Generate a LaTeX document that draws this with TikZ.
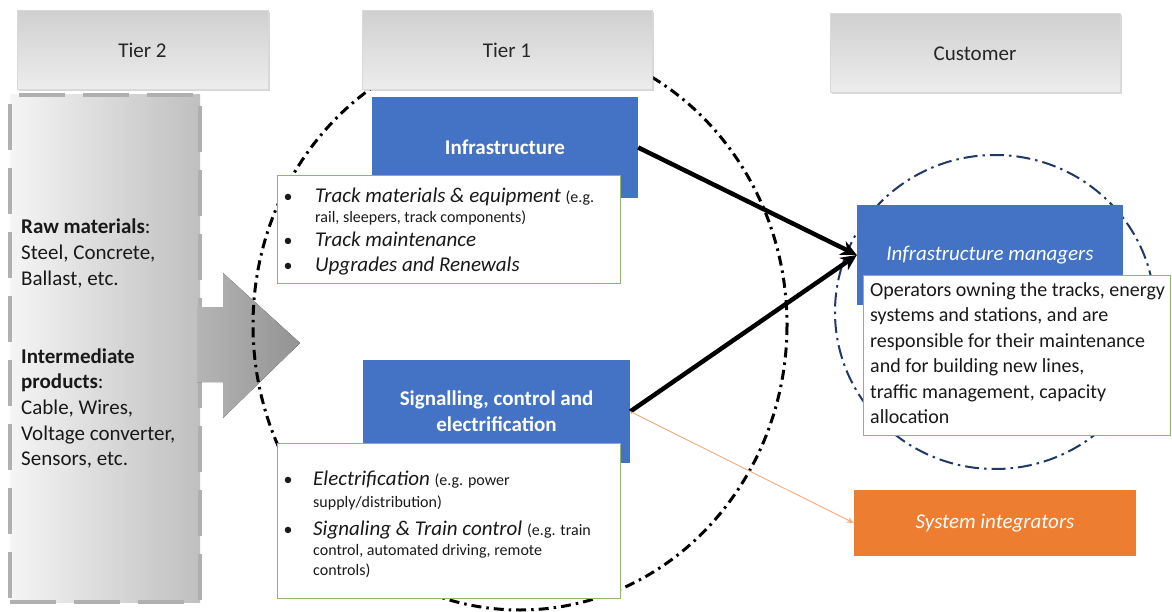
\documentclass[tikz,border=0pt]{standalone}
\usepackage{fontspec}
\setmainfont{Carlito}
\usetikzlibrary{arrows.meta,shadows}
\definecolor{hblue}{HTML}{4472C4}
\definecolor{horange}{HTML}{ED7D31}
\definecolor{hgreen}{HTML}{8DB86A}
\definecolor{hnavy}{HTML}{1F3864}
\definecolor{hpeach}{HTML}{F4B183}
\newcommand{\sm}{\fontsize{16}{19}\selectfont}
\begin{document}
\begin{tikzpicture}[x=1pt,y=-1pt,
  hdr/.style={rectangle, draw=gray!30, line width=1pt, top color=gray!37, bottom color=gray!14,
    font=\fontsize{21}{25}\selectfont, text=black!85, inner sep=0,
    drop shadow={shadow xshift=1.5pt, shadow yshift=-1.5pt, opacity=.3, fill=gray}},
  bluebox/.style={rectangle, fill=hblue, inner sep=0, text=white, font=\fontsize{21}{26}\selectfont\bfseries, align=center},
  listbox/.style={rectangle, draw=hgreen, line width=0.9pt, fill=white, inner sep=0},
  ln/.style={anchor=base west, inner sep=0, font=\fontsize{21}{25}\selectfont, text=black!90},
  dln/.style={anchor=base west, inner sep=0, font=\fontsize{20}{24}\selectfont, text=black!90},
  bul/.style={anchor=base, inner sep=0, font=\fontsize{18}{19}\selectfont, text=black!90},
  blk/.style={line width=4.5pt, -{Stealth[length=16pt,width=15pt]}},
  org/.style={hpeach, line width=1pt, -{Stealth[length=7pt,width=6pt]}}]
\useasboundingbox (0,0) rectangle (1172,612);
\fill[white] (0,0) rectangle (1172,612);

% Tier 2 box
\node[rectangle, draw=gray!62, line width=4pt, dash pattern=on 46pt off 18pt,
  left color=gray!8, right color=gray!50, minimum width=190, minimum height=507, inner sep=0]
  (t2box) at (105,348.5) {};

% customer circle
\draw[hnavy, line width=2pt, dash pattern=on 14pt off 5pt on 2.5pt off 5pt] (995,312) ellipse [x radius=160, y radius=157];

% tier 2 arrow
\fill[left color=gray!58, right color=gray!85] (197,307) -- (223,307) -- (223,273) -- (300,343) -- (223,418) -- (223,382) -- (197,382) -- cycle;

% tier 1 ellipse
\draw[line width=3pt, dash pattern=on 10pt off 5pt on 2.5pt off 5pt] (520,325) ellipse [x radius=267, y radius=285];

% headers
\node[hdr, minimum width=251, minimum height=79] (h2) at (142.5,50.5) {Tier 2};
\node[hdr, minimum width=290, minimum height=79] (h1) at (507,50.5) {Tier 1};
\node[hdr, minimum width=290, minimum height=79] (hc) at (975,53.5) {Customer};

% blue boxes
\node[bluebox, minimum width=266, minimum height=101] (infra) at (505,147.5) {Infrastructure};
\node[bluebox, minimum width=267, minimum height=103] (signal) at (496.5,411.5) {Signalling, control and\\electrification};
\node[bluebox, minimum width=266, minimum height=100, font=\fontsize{21}{26}\selectfont\itshape] (im) at (990,255) {\raisebox{-4pt}{Infrastructure managers}};
\node[rectangle, fill=horange, inner sep=0, text=white, font=\fontsize{21}{26}\selectfont\itshape,
  minimum width=282, minimum height=66] (si) at (995,523) {System integrators};

% list boxes
\node[listbox, minimum width=343, minimum height=108] (b1) at (448.5,229) {};
\node[listbox, minimum width=343, minimum height=155] (b2) at (448.5,520.5) {};
\node[listbox, minimum width=307, minimum height=160] (desc) at (1016.5,355) {};

% tier 2 text
\node[ln] (r1) at (21,234) {\textbf{Raw materials}:};
\node[ln] (r2) at (21,260) {Steel, Concrete,};
\node[ln] (r3) at (21,285) {Ballast, etc.};
\node[ln] (r4) at (21,363) {\textbf{Intermediate}};
\node[ln] (r5) at (21,388) {\textbf{products}:};
\node[ln] (r6) at (21,414) {Cable, Wires,};
\node[ln] (r7) at (21,440) {Voltage converter,};
\node[ln] (r8) at (21,465) {Sensors, etc.};

% list 1
\node[bul] (p1) at (288,203) {\textbullet};
\node[ln] (l1) at (315,203) {\textit{Track materials \& equipment} {\sm (e.g.}};
\node[ln] (l2) at (315,223) {\sm rail, sleepers, track components)};
\node[bul] (p2) at (288,247) {\textbullet};
\node[ln] (l3) at (315,247) {\textit{Track maintenance}};
\node[bul] (p3) at (288,272) {\textbullet};
\node[ln] (l4) at (315,272) {\textit{Upgrades and Renewals}};

% list 2
\node[bul] (q1) at (288,485) {\textbullet};
\node[ln] (m1) at (313,485) {\textit{Electrification} {\sm (e.g. power}};
\node[ln] (m2) at (313,507) {\sm supply/distribution)};
\node[bul] (q2) at (288,535) {\textbullet};
\node[ln] (m3) at (313,535) {\textit{Signaling \& Train control} {\sm (e.g. train}};
\node[ln] (m4) at (313,555) {\sm control, automated driving, remote};
\node[ln] (m5) at (313,575) {\sm controls)};

% description
\node[dln] (d1) at (870,296) {Operators owning the tracks, energy};
\node[dln] (d2) at (870,321.5) {systems and stations, and are};
\node[dln] (d3) at (870,347) {responsible for their maintenance};
\node[dln] (d4) at (870,372.5) {and for building new lines,};
\node[dln] (d5) at (870,398) {traffic management, capacity};
\node[dln] (d6) at (870,423.5) {allocation};

% connectors
\draw[blk] (infra.east) -- (im.west);
\draw[blk] (signal.east) -- (im.west);
\draw[org] (signal.east) -- (si.west);
\end{tikzpicture}
\end{document}
